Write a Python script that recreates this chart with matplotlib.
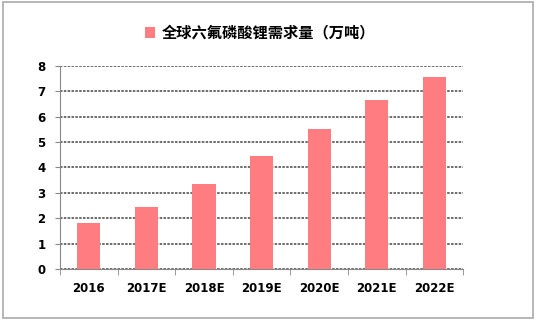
import matplotlib
matplotlib.use("Agg")
import matplotlib.pyplot as plt
from matplotlib.patches import Rectangle

plt.rcParams['font.family'] = ['Noto Sans CJK SC', 'DejaVu Sans']

years = ['2016', '2017E', '2018E', '2019E', '2020E', '2021E', '2022E']
demand = [1.8, 2.45, 3.35, 4.45, 5.5, 6.65, 7.55]
yticks = [0, 1, 2, 3, 4, 5, 6, 7, 8]
title = '全球六氟磷酸锂需求量（万吨）'

fig = plt.figure(figsize=(5.37, 3.23), dpi=100)
ax = fig.add_axes([0.1117, 0.167, 0.751, 0.629])

x = list(range(len(years)))
ax.bar(x, demand, width=0.4, color='#ff7c80', zorder=3, label=title)

ax.set_xlim(-0.5, len(years) - 0.5)
ax.set_ylim(0, 8)
ax.set_yticks(yticks)
ax.set_xticks(x)
ax.set_xticklabels(years, fontsize=8.5, fontweight='bold', family='DejaVu Sans')
ax.set_yticklabels([str(v) for v in yticks], fontsize=8.5, fontweight='bold', family='DejaVu Sans')
ax.tick_params(axis='x', length=0, pad=9)
ax.tick_params(axis='y', length=3.5, direction='out', color='#888888', pad=7)
# tick marks between categories on x axis
ax.set_xticks([i - 0.5 for i in range(len(years) + 1)], minor=True)
ax.tick_params(axis='x', which='minor', length=4, direction='out', color='#888888')

ax.yaxis.grid(True, linestyle=(0, (1.5, 0.8)), color='#555555', linewidth=1.2, zorder=0)
for s in ['top', 'right']:
    ax.spines[s].set_visible(False)
ax.spines['left'].set_color('#888888')
ax.spines['bottom'].set_color('#888888')

fig.legend(loc='center', bbox_to_anchor=(0.484, 0.898), frameon=False,
           handlelength=0.7, handleheight=0.7, handletextpad=0.4,
           prop={'weight': 'bold', 'size': 11})

# outer frame
fig.add_artist(Rectangle((0.0056, 0.0155), 0.987, 0.978, transform=fig.transFigure,
                         fill=False, edgecolor='#aaaaaa', linewidth=1.2))

fig.savefig('out.png', dpi=100)
